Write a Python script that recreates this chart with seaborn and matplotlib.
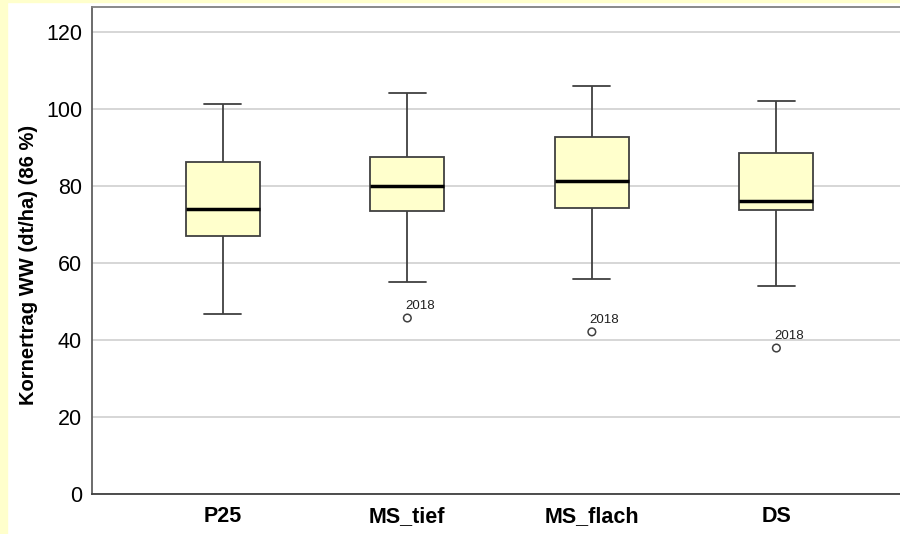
import pandas as pd
import seaborn as sns
import matplotlib.pyplot as plt

# five-number summaries (min, q1, median, q3, max)
groups = ['P25', 'MS_tief', 'MS_flach', 'DS']
w_low = [46.8, 55.0, 55.8, 54.0]
q1 = [67.0, 73.5, 74.3, 73.8]
median = [74.0, 80.0, 81.2, 76.1]
q3 = [86.2, 87.5, 92.7, 88.6]
w_high = [101.2, 104.2, 106.0, 102.0]

# outliers (labelled with year)
out_group = ['MS_tief', 'MS_flach', 'DS']
out_value = [45.7, 42.1, 37.9]
out_label = ['2018', '2018', '2018']

rows = []
for i, g in enumerate(groups):
    for v in (w_low[i], q1[i], median[i], q3[i], w_high[i]):
        rows.append((g, v))
df = pd.DataFrame(rows, columns=['group', 'value'])
df_out = pd.DataFrame({'group': out_group, 'value': out_value, 'label': out_label})

sns.set_style('white')
plt.rcParams['font.family'] = ['Liberation Sans', 'DejaVu Sans']

fig = plt.figure(figsize=(9, 5.34), dpi=100, facecolor='white')
# yellow frame strip at left / top
fig.patches.append(plt.Rectangle((0, 0), 7 / 900, 1, transform=fig.transFigure,
                                 color='#FFFFCC', zorder=0))
fig.patches.append(plt.Rectangle((0, 1 - 2 / 534), 1, 2 / 534, transform=fig.transFigure,
                                 color='#FFFFCC', zorder=0))
ax = fig.add_axes([0.102, 0.075, 0.898, 0.912])

edge = '#404040'
sns.boxplot(data=df, x='group', y='value', order=groups, whis=(0, 100),
            width=0.40, color='#FFFFCC', saturation=1, linecolor=edge,
            linewidth=1.3, fliersize=0,
            medianprops={'color': 'black', 'linewidth': 2.5},
            capprops={'color': edge, 'linewidth': 1.3},
            whiskerprops={'color': edge, 'linewidth': 1.3},
            ax=ax, zorder=3)

xpos = {g: i for i, g in enumerate(groups)}
sns.scatterplot(data=df_out, x='group', y='value', ax=ax, marker='o', s=30,
                facecolor='none', edgecolor=edge, linewidth=1.1, zorder=4, legend=False)
for _, r in df_out.iterrows():
    ax.annotate(r['label'], (xpos[r['group']], r['value']), xytext=(-1.5, 4.5),
                textcoords='offset points', ha='left', va='bottom', fontsize=9.5,
                color='#202020')

ax.set_ylim(0, 126.5)
ax.set_xlim(-0.71, 3.67)
ax.set_yticks([0, 20, 40, 60, 80, 100, 120])
ax.yaxis.grid(True, color='#D0D0D0', linewidth=1.2)
ax.set_axisbelow(True)
ax.tick_params(axis='y', length=0, pad=7, labelsize=15.5, labelcolor='black')
ax.tick_params(axis='x', length=0, pad=9, labelsize=15.5, labelcolor='black')
for lbl in ax.get_xticklabels():
    lbl.set_fontweight('bold')
ax.set_xlabel('')
ax.set_ylabel('Kornertrag WW (dt/ha) (86 %)', fontsize=14.5, fontweight='bold', color='black')
ax.yaxis.set_label_coords(-0.067, 0.47)

ax.spines['right'].set_visible(False)
ax.spines['left'].set_color('#606060')
ax.spines['top'].set_color('#808080')
ax.spines['bottom'].set_color('#404040')
for s in ('left', 'top', 'bottom'):
    ax.spines[s].set_linewidth(1.3)

fig.savefig('out.png', dpi=100)
